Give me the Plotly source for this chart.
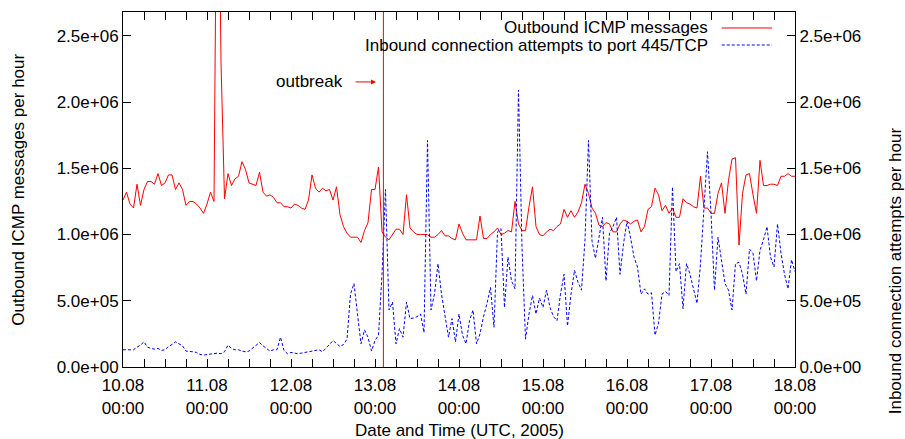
import pandas as pd
import plotly.graph_objects as go

# Hourly samples, 10.08.2005 00:00 .. 18.08.2005 00:00 (UTC)
start_time = "2005-08-10 00:00"
end_time = "2005-08-18 00:00"
outbreak_time = "2005-08-13 02:24"

# Outbound ICMP messages per hour (millions)
icmp_millions = [
    1.26, 1.32, 1.23, 1.20, 1.38, 1.22, 1.34, 1.40, 1.40, 1.38, 1.46, 1.37,
    1.39, 1.45, 1.45, 1.34, 1.39, 1.34, 1.22, 1.25, 1.25, 1.23, 1.20, 1.16,
    1.23, 1.32, 1.25, 4.60, 2.30, 1.27, 1.46, 1.37, 1.42, 1.44, 1.55, 1.49,
    1.39, 1.38, 1.37, 1.47, 1.32, 1.29, 1.30, 1.28, 1.24, 1.24, 1.21, 1.21,
    1.20, 1.23, 1.22, 1.20, 1.19, 1.26, 1.45, 1.35, 1.32, 1.35, 1.33, 1.34,
    1.26, 1.36, 1.15, 1.06, 1.01, 0.98, 0.98, 0.98, 0.94, 1.03, 1.09, 1.34,
    1.34, 1.51, 1.02, 0.98, 0.96, 1.00, 1.04, 1.04, 1.00, 1.30, 1.05, 1.02,
    1.00, 1.00, 1.00, 1.00, 0.98, 0.98, 1.00, 1.03, 0.99, 0.99, 0.97, 0.96,
    1.08, 1.01, 0.96, 0.96, 0.96, 0.96, 1.14, 0.97, 0.97, 1.00, 1.02, 1.05,
    1.00, 1.01, 1.03, 1.02, 1.25, 1.08, 1.03, 1.03, 1.21, 1.36, 1.06, 1.00,
    0.99, 1.02, 1.04, 1.03, 1.06, 1.08, 1.19, 1.13, 1.18, 1.13, 1.17, 1.24,
    1.38, 1.31, 1.20, 1.16, 1.07, 1.06, 1.09, 1.08, 1.02, 1.02, 1.08, 1.11,
    1.10, 1.08, 1.10, 1.11, 1.02, 1.06, 1.19, 1.21, 1.35, 1.30, 1.18, 1.22,
    1.16, 1.20, 1.13, 1.13, 1.27, 1.24, 1.23, 1.21, 1.20, 1.44, 1.20, 1.20,
    1.16, 1.16, 1.31, 1.39, 1.16, 1.41, 1.57, 1.58, 0.92, 1.31, 1.45, 1.46,
    1.30, 1.16, 1.56, 1.37, 1.37, 1.38, 1.38, 1.37, 1.44, 1.44, 1.46, 1.44,
    1.44,
]

# Inbound connection attempts to port 445/TCP per hour (millions)
smb_millions = [
    0.13, 0.13, 0.125, 0.13, 0.15, 0.165, 0.19, 0.15, 0.14, 0.135, 0.14, 0.125,
    0.13, 0.155, 0.17, 0.19, 0.175, 0.16, 0.12, 0.12, 0.115, 0.11, 0.095, 0.09,
    0.095, 0.10, 0.105, 0.105, 0.10, 0.115, 0.165, 0.14, 0.13, 0.13, 0.12, 0.115,
    0.12, 0.14, 0.16, 0.185, 0.16, 0.14, 0.12, 0.13, 0.13, 0.225, 0.125, 0.10,
    0.11, 0.105, 0.10, 0.105, 0.11, 0.12, 0.125, 0.13, 0.13, 0.115, 0.14, 0.17,
    0.20, 0.18, 0.155, 0.17, 0.21, 0.55, 0.63, 0.40, 0.175, 0.28, 0.225, 0.12,
    0.20, 0.24, 0.70, 1.34, 0.43, 0.49, 0.175, 0.29, 0.225, 0.49, 0.365, 0.37,
    0.38, 0.40, 0.26, 1.71, 0.43, 0.55, 0.78, 0.55, 0.40, 0.225, 0.365, 0.19,
    0.40, 0.24, 0.175, 0.35, 0.43, 0.175, 0.25, 0.38, 0.48, 0.60, 0.30, 1.02,
    1.045, 0.45, 0.83, 0.65, 0.59, 2.09, 0.91, 0.21, 0.40, 0.54, 0.40, 0.52,
    0.45, 0.58, 0.45, 0.38, 0.35, 0.55, 0.70, 0.31, 0.55, 0.73, 0.64, 0.58,
    0.96, 1.71, 0.95, 0.82, 0.98, 1.13, 0.65, 1.01, 1.06, 1.13, 0.70, 0.93,
    1.10, 0.98, 0.83, 0.755, 0.55, 0.59, 0.55, 0.56, 0.24, 0.33, 0.55, 0.57,
    0.54, 1.36, 0.72, 0.78, 0.44, 0.78, 0.70, 0.58, 0.48, 0.78, 1.23, 1.625,
    1.16, 0.58, 0.98, 0.81, 0.63, 0.58, 0.43, 0.78, 0.79, 0.70, 0.55, 0.89,
    0.86, 0.65, 0.88, 0.96, 1.06, 0.83, 0.755, 1.08, 0.86, 0.70, 0.59, 0.81,
    0.72,
]

y_tick_values = [0, 500000, 1000000, 1500000, 2000000, 2500000]
y_tick_labels = ["0.0e+00", "5.0e+05", "1.0e+06", "1.5e+06", "2.0e+06", "2.5e+06"]

x_tick_values = ["2005-08-10", "2005-08-11", "2005-08-12", "2005-08-13", "2005-08-14",
                 "2005-08-15", "2005-08-16", "2005-08-17", "2005-08-18"]
x_tick_labels = ["10.08<br>00:00", "11.08<br>00:00", "12.08<br>00:00", "13.08<br>00:00",
                 "14.08<br>00:00", "15.08<br>00:00", "16.08<br>00:00", "17.08<br>00:00",
                 "18.08<br>00:00"]

series_names = ["Outbound ICMP messages", "Inbound connection attempts to port 445/TCP"]

times = pd.date_range(start_time, periods=len(icmp_millions), freq="h")
icmp = [v * 1e6 for v in icmp_millions]
smb = [v * 1e6 for v in smb_millions]

FONT = "Liberation Sans, Arial, Helvetica, sans-serif"
RED = "#ff0000"
BLUE = "#0000ff"
Y_MAX = 2.68e6

fig = go.Figure()
fig.add_trace(go.Scatter(x=times, y=icmp, mode="lines", name=series_names[0],
                         line=dict(color=RED, width=1), showlegend=False))
fig.add_trace(go.Scatter(x=times, y=smb, mode="lines", name=series_names[1], yaxis="y2",
                         line=dict(color=BLUE, width=1, dash="3px,2px"), showlegend=False))

axis_common = dict(showline=True, linecolor="black", linewidth=1, showgrid=False,
                   zeroline=False, ticks="inside", ticklen=8, tickcolor="black",
                   tickfont=dict(family=FONT, size=17, color="black"))

fig.update_layout(
    width=905, height=439,
    margin=dict(l=123, r=110, t=12, b=72),
    paper_bgcolor="white", plot_bgcolor="white",
    font=dict(family=FONT, size=17, color="black"),
    xaxis=dict(axis_common, type="date", range=[start_time, end_time], mirror="allticks",
               tickmode="array", tickvals=x_tick_values, ticktext=x_tick_labels,
               ticklabelstandoff=3,
               minor=dict(dtick=6 * 3600 * 1000, ticks="inside", ticklen=4,
                          tickcolor="black", showgrid=False)),
    yaxis=dict(axis_common, range=[0, Y_MAX], tickmode="array",
               tickvals=y_tick_values, ticktext=y_tick_labels),
    yaxis2=dict(axis_common, range=[0, Y_MAX], tickmode="array", overlaying="y",
                side="right", tickvals=y_tick_values, ticktext=y_tick_labels),
)

# outbreak marker
fig.add_shape(type="line", xref="x", yref="paper", x0=outbreak_time, x1=outbreak_time,
              y0=0, y1=1, line=dict(color=RED, width=1))

annotations = [
    dict(text="Outbound ICMP messages per hour", xref="paper", yref="paper",
         x=-0.156, y=0.5, xanchor="center", yanchor="middle", textangle=-90,
         showarrow=False, font=dict(size=17)),
    dict(text="Inbound connection attempts per hour", xref="paper", yref="paper",
         x=1.149, y=0.27, xanchor="center", yanchor="middle", textangle=-90,
         showarrow=False, font=dict(size=17)),
    dict(text="Date and Time (UTC, 2005)", xref="paper", yref="paper",
         x=0.5, y=-0.1775, xanchor="center", yanchor="middle", showarrow=False,
         font=dict(size=17)),
    dict(text="outbreak", xref="paper", yref="paper", x=0.330, y=0.803,
         xanchor="right", yanchor="middle", showarrow=False, font=dict(size=17)),
    dict(text="", xref="paper", yref="paper", x=0.3765, y=0.803, ax=-22, ay=0,
         showarrow=True, arrowhead=2, arrowsize=1, arrowwidth=1, arrowcolor=RED),
]

# key in the top right corner: label right-aligned, sample line after it
legend_rows = [(0.955, RED, "solid"), (0.907, BLUE, "3px,2px")]
for name, (ypos, color, dash) in zip(series_names, legend_rows):
    annotations.append(dict(text=name, xref="paper", yref="paper", x=0.8735, y=ypos,
                            xanchor="right", yanchor="middle", showarrow=False,
                            font=dict(size=17)))
    fig.add_shape(type="line", xref="paper", yref="paper", x0=0.891, x1=0.966,
                  y0=ypos, y1=ypos, line=dict(color=color, width=1, dash=dash))

fig.update_layout(annotations=annotations)
fig.write_html("out.html")
